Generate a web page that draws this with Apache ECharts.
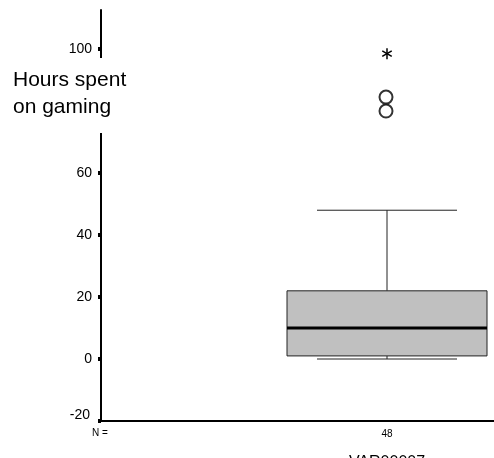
<!DOCTYPE html>
<html>
<head>
<meta charset="utf-8">
<script src="https://cdn.jsdelivr.net/npm/echarts@6/dist/echarts.min.js"></script>
<style>
  html, body { margin: 0; padding: 0; background: #fff; }
  #chart { width: 494px; height: 458px; }
</style>
</head>
<body>
<div id="chart"></div>
<script>
// data
var categories = ['VAR00007'];
var counts = [48];
// [lower whisker, Q1, median, Q3, upper whisker]
var boxStats = [[0, 1, 10, 22, 48]];
var outliers = [80, 84.5];   // circles
var extremes = [98.5];       // asterisk
var yTicks = [-20, 0, 20, 40, 60, 80, 100];

var chart = echarts.init(document.getElementById('chart'));

function renderBox(params, api) {
  var x = api.value(0);
  var lo = api.coord([x, api.value(1)]);
  var q1 = api.coord([x, api.value(2)]);
  var med = api.coord([x, api.value(3)]);
  var q3 = api.coord([x, api.value(4)]);
  var hi = api.coord([x, api.value(5)]);
  var cx = lo[0];
  var hw = 100; // half box width
  var cw = 70;  // half cap width
  var line = { stroke: '#222', lineWidth: 1 };
  return {
    type: 'group',
    children: [
      { type: 'line', shape: { x1: cx, y1: hi[1], x2: cx, y2: q3[1] }, style: line },
      { type: 'line', shape: { x1: cx - cw, y1: hi[1], x2: cx + cw, y2: hi[1] }, style: line },
      { type: 'line', shape: { x1: cx, y1: lo[1], x2: cx, y2: q1[1] }, style: line },
      { type: 'line', shape: { x1: cx - cw, y1: lo[1], x2: cx + cw, y2: lo[1] }, style: line },
      { type: 'rect', shape: { x: cx - hw, y: q3[1], width: 2 * hw, height: q1[1] - q3[1] },
        style: { fill: '#c0c0c0', stroke: '#222', lineWidth: 1 } },
      { type: 'line', shape: { x1: cx - hw, y1: med[1], x2: cx + hw, y2: med[1] },
        style: { stroke: '#000', lineWidth: 3 } }
    ]
  };
}

function renderStar(params, api) {
  var p = api.coord([api.value(0), api.value(1)]);
  var r = 5.5;
  var s = { stroke: '#000', lineWidth: 1.5 };
  var kids = [];
  for (var i = 0; i < 3; i++) {
    var a = Math.PI / 2 + i * Math.PI / 3;
    kids.push({ type: 'line', shape: {
      x1: p[0] - r * Math.cos(a), y1: p[1] - r * Math.sin(a),
      x2: p[0] + r * Math.cos(a), y2: p[1] + r * Math.sin(a) }, style: s });
  }
  return { type: 'group', children: kids };
}

var option = {
  animation: false,
  grid: { left: 101, right: -179, top: 10, bottom: 37, containLabel: false, outerBoundsMode: 'none' },
  xAxis: {
    type: 'category',
    data: categories,
    name: categories[0],
    nameLocation: 'middle',
    nameGap: 34,
    nameTextStyle: { color: '#000', fontSize: 16, fontFamily: 'Liberation Sans', verticalAlign: 'top' },
    axisLine: { onZero: false, lineStyle: { color: '#000', width: 2 } },
    axisTick: { alignWithLabel: true, length: 3, lineStyle: { color: '#000', width: 4 } },
    axisLabel: {
      color: '#000', fontSize: 10, fontFamily: 'Liberation Sans', margin: 8,
      formatter: function (v, i) { return String(counts[i]); }
    },
    splitLine: { show: false }
  },
  yAxis: {
    type: 'value',
    min: -20,
    max: 112.6,
    axisLine: { show: true, lineStyle: { color: '#000', width: 2 } },
    axisTick: { show: true, customValues: yTicks, length: 3, lineStyle: { color: '#000', width: 4 } },
    axisLabel: {
      customValues: yTicks, color: '#000', fontSize: 14, fontFamily: 'Liberation Sans', margin: 9,
      formatter: function (v) { return v === yTicks[0] ? '{low|' + v + '}' : String(v); },
      rich: { low: { fontSize: 14, fontFamily: 'Liberation Sans', color: '#000', padding: [0, 2, 12, 0] } }
    },
    splitLine: { show: false }
  },
  series: [
    {
      type: 'custom',
      renderItem: renderBox,
      encode: { x: 0, y: [1, 2, 3, 4, 5] },
      data: boxStats.map(function (b, i) { return [i].concat(b); }),
      z: 2
    },
    {
      type: 'scatter',
      symbol: 'emptyCircle',
      symbolSize: 13,
      symbolOffset: [-1, 0],
      itemStyle: { color: '#000', borderColor: '#000', borderWidth: 1.6 },
      data: outliers.map(function (v) { return [0, v]; }),
      z: 3
    },
    {
      type: 'custom',
      renderItem: renderStar,
      encode: { x: 0, y: 1 },
      data: extremes.map(function (v) { return [0, v]; }),
      z: 3
    }
  ],
  graphic: [
    {
      type: 'rect', left: 8, top: 58, z: 100,
      shape: { width: 126, height: 75 },
      style: { fill: '#fff' }
    },
    {
      type: 'text', left: 13, top: 67, z: 101,
      style: { text: 'Hours spent\non gaming', fill: '#000', fontSize: 21,
        fontFamily: 'Liberation Sans', lineHeight: 27 }
    },
    {
      type: 'text', left: 92, top: 428, z: 101,
      style: { text: 'N =', fill: '#000', fontSize: 10, fontFamily: 'Liberation Sans' }
    }
  ]
};

chart.setOption(option);
</script>
</body>
</html>
